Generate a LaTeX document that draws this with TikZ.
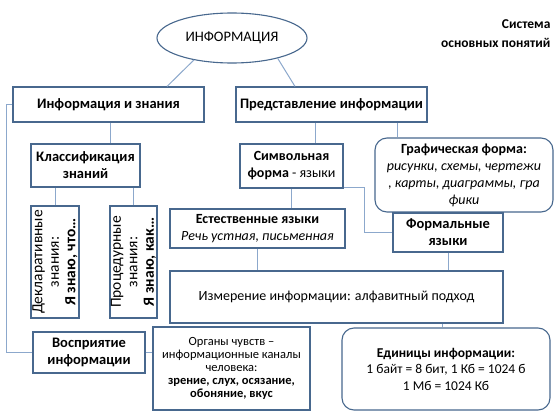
\documentclass[tikz,border=0pt]{standalone}
\usepackage{fontspec}
\setmainfont{Carlito}
\usetikzlibrary{shapes.geometric}
\definecolor{bordc}{RGB}{72,104,142}
\definecolor{linec}{RGB}{140,168,204}
\begin{document}
\begin{tikzpicture}[x=1pt,y=-1pt,
  bx/.style={draw=bordc,line width=1.1pt,fill=white,inner sep=0pt,align=center,font=\fontsize{14}{17}\selectfont},
  rbx/.style={bx,rounded corners=12pt},
  ln/.style={draw=linec,line width=1pt},
  hd/.style={font=\fontsize{14.5}{17}\selectfont\bfseries},
  rot/.style={bx,rotate=90,font=\fontsize{15.5}{16.5}\selectfont}]
\useasboundingbox[fill=white] (0,0) rectangle (560,420);
% connector x positions
\coordinate (xa) at (110,0);
\coordinate (xb) at (315,0);
\coordinate (xc) at (397,0);
\coordinate (xd) at (442,0);
\coordinate (xe) at (167,0);
\coordinate (xf) at (295,0);

\node[ellipse,draw=bordc,line width=1.1pt,fill=white,minimum width=150,minimum height=50,inner sep=0pt,font=\fontsize{14.5}{16}\selectfont] (ell) at (232,38) {ИНФОРМАЦИЯ};
\node[anchor=east,align=right,font=\fontsize{13.5}{19}\selectfont\bfseries] (sys) at (554,34) {Система\\основных понятий};

\node[bx,hd,minimum width=191,minimum height=35] (ib) at (108.5,104.5) {Информация и знания};
\node[bx,hd,minimum width=191,minimum height=35] (pi) at (331.5,104.5) {Представление информации};
\node[bx,hd,minimum width=109,minimum height=43] (kz) at (85.5,165.5) {Классификация\\знаний};
\node[rot,minimum width=112,minimum height=48] (dz) at (55,262) {Декларативные\\знания:\\\textbf{Я знаю, что…}};
\node[rot,minimum width=112,minimum height=47] (pz) at (133.5,262) {Процедурные\\знания:\\\textbf{Я знаю, как…}};
\node[bx,minimum width=103,minimum height=44] (sf) at (291.5,166) {\textbf{Символьная}\\\textbf{форма} - языки};
\node[rbx,minimum width=178,minimum height=74] (gf) at (464,175) {\textbf{Графическая форма:}\\\textit{рисунки, схемы, чертежи}\\\textit{, карты, диаграммы, гра}\\\textit{фики}};
\node[bx,hd,minimum width=110,minimum height=39] (ff) at (448,232.5) {Формальные\\языки};
\node[bx,minimum width=175,minimum height=39] (ej) at (257.5,228.5) {\textbf{Естественные языки}\\\textit{Речь устная, письменная}};
\node[bx,minimum width=333,minimum height=52] (iz) at (336.5,297) {Измерение информации: алфавитный подход};
\node[bx,hd,minimum width=112,minimum height=41] (vi) at (89,352.5) {Восприятие\\информации};
\node[bx,minimum width=157,minimum height=83,font=\fontsize{12.5}{12.9}\selectfont] (ok) at (231.5,368.5) {Органы чувств –\\информационные каналы\\человека:\\\textbf{зрение, слух, осязание,}\\\textbf{обоняние, вкус}};
\node[rbx,minimum width=208,minimum height=82,font=\fontsize{13.5}{16.5}\selectfont] (ed) at (446,369) {\textbf{Единицы информации:}\\1 байт = 8 бит, 1 Кб = 1024 б\\1 Мб = 1024 Кб};

% connectors
\draw[ln] (ell.210) -- (ib.north -| xe);
\draw[ln] (ell.-24) -- (pi.north -| xf);
\draw[ln] (ib.west) -- ++(-6,0) |- (vi.west);
\draw[ln] (ib.south -| xa) -- (kz.north -| xa);
\draw[ln] (dz.east) -- (dz.east |- kz.south);
\draw[ln] (pz.east) -- (pz.east |- kz.south);
\draw[ln] (pi.south -| xb) -- (sf.north -| xb);
\draw[ln] (pi.south -| xc) -- (gf.north -| xc);
\draw[ln] (sf.south) -- (sf.south |- ej.north);
\draw[ln] ([yshift=1.5pt]sf.south east) -- ++(21,0) |- (ff.west);
\draw[ln] (ej.south) -- (ej.south |- iz.north);
\draw[ln] (ff.south) -- (ff.south |- iz.north);
\draw[ln] (iz.south -| xd) -- (ed.north -| xd);
\draw[ln] (vi.east) -- (vi.east -| ok.west);
\end{tikzpicture}
\end{document}
